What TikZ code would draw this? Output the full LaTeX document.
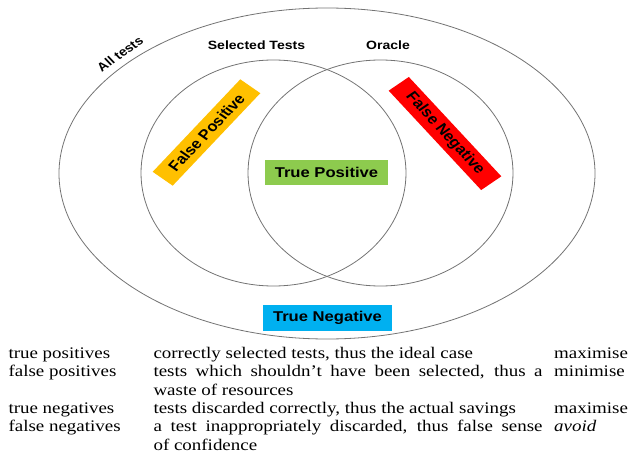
\documentclass[tikz,border=0pt]{standalone}
\usepackage{fontspec}
\setmainfont{Liberation Serif}
\newfontfamily\labelfont{Liberation Sans}
\definecolor{fp-orange}{HTML}{FFC000}
\definecolor{fn-red}{HTML}{FF0000}
\definecolor{tp-green}{HTML}{8DCB4E}
\definecolor{tn-blue}{HTML}{00B0F0}
\begin{document}
\begin{tikzpicture}[x=1pt,y=-1pt,
  set/.style={draw=black!55, line width=.8pt},
  caption/.style={font=\labelfont\bfseries\fontsize{12}{14}\selectfont, inner sep=0pt, xscale=1.17},
  outcome/.style={font=\labelfont\bfseries\fontsize{14.2}{16}\selectfont, inner sep=0pt, minimum height=22pt, xscale=1.17},
  cell/.style={font=\fontsize{16.2}{18.3}\selectfont, inner sep=0pt, anchor=base west, xscale=1.17}]
\useasboundingbox (0,0) rectangle (629,468);
% Draw the three sets
\coordinate (all-centre) at (327,173.5);
\coordinate (selected-centre) at (273.5,173);
\coordinate (oracle-centre) at (380.5,173);
\draw[set] (all-centre) ellipse [x radius=268pt, y radius=165.5pt];
\draw[set] (selected-centre) ellipse [x radius=132.5pt, y radius=113pt];
\draw[set] (oracle-centre) ellipse [x radius=132.5pt, y radius=113pt];
% Set names
\node[caption, rotate=39] (all-label) at (120,54) {All tests};
\node[caption] (selected-label) at (256.5,45) {Selected Tests};
\node[caption] (oracle-label) at (388,45) {Oracle};
% Outcome boxes
\node[outcome, fill=tp-green, minimum width=105pt, minimum height=25pt] (true-pos) at (326.5,172.5) {True Positive};
\node[outcome, fill=tn-blue, minimum width=110pt, minimum height=26pt] (true-neg) at (327.5,318) {True Negative};
\node[outcome, fill=fp-orange, minimum width=119pt, rotate=51] (false-pos) at (206.5,132.5) {False Positive};
\node[outcome, fill=fn-red, minimum width=127pt, rotate=-51.5] (false-neg) at (445,133.5) {False Negative};
% Table below the diagram
\node[cell] (tp-term) at (8.3,358.3) {true positives};
\node[cell] (tp-text) at (153.3,358.3) {correctly selected tests, thus the ideal case};
\node[cell] (tp-goal) at (554,358.3) {maximise};
\node[cell] (fp-term) at (8.3,376.7) {false positives};
\node[cell] (fp-text) at (153.3,376.7) {\parbox[t]{332.5pt}{tests which shouldn't have been selected, thus a\linebreak waste of resources}};
\node[cell] (fp-goal) at (554,376.7) {minimise};
\node[cell] (tn-term) at (8.3,413.3) {true negatives};
\node[cell] (tn-text) at (153.3,413.3) {tests discarded correctly, thus the actual savings};
\node[cell] (tn-goal) at (554,413.3) {maximise};
\node[cell] (fn-term) at (8.3,431.7) {false negatives};
\node[cell] (fn-text) at (153.3,431.7) {\parbox[t]{332.5pt}{a test inappropriately discarded, thus false sense\linebreak of confidence}};
\node[cell] (fn-goal) at (554,431.7) {\textit{avoid}};
\end{tikzpicture}
\end{document}
